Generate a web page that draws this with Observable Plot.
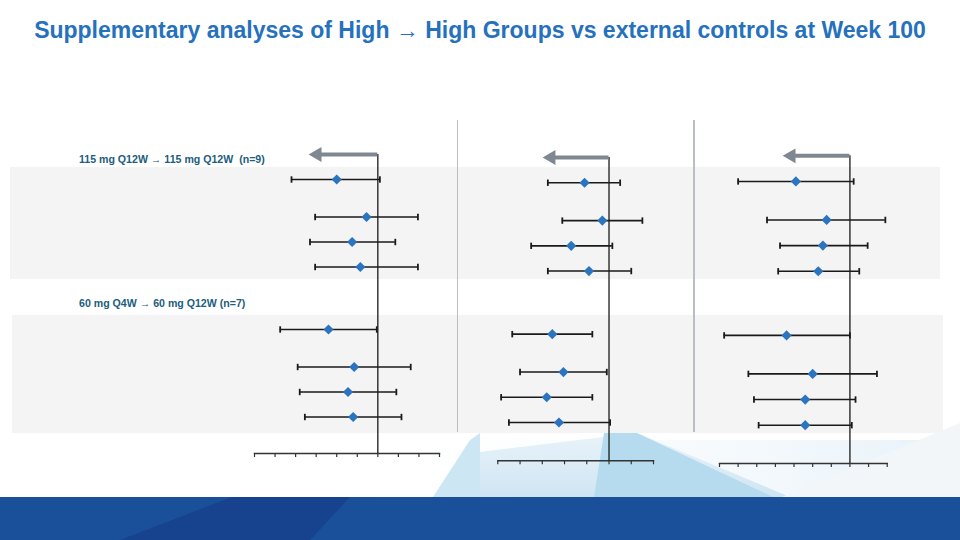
<!DOCTYPE html>
<html>
<head>
<meta charset="utf-8">
<script src="https://cdn.jsdelivr.net/npm/d3@7"></script>
<script src="https://cdn.jsdelivr.net/npm/@observablehq/plot@0.6"></script>
<style>
  html, body { margin: 0; padding: 0; background: #ffffff; }
  #slide { position: relative; width: 960px; height: 540px; overflow: hidden; font-family: "Liberation Sans", Arial, sans-serif; background: #ffffff; }
  #slide .layer { position: absolute; left: 0; top: 0; }
  #title { position: absolute; left: 0; top: 15px; width: 960px; text-align: center; font-size: 23px; font-weight: bold; color: #2571bd; line-height: 30px; white-space: nowrap; }
  .grp { position: absolute; left: 79px; font-size: 10.6px; font-weight: bold; color: #1d5d7d; white-space: nowrap; }
  .band { position: absolute; background: #f4f4f4; }
  .sep { position: absolute; width: 1.6px; background: #b8bec4; }
</style>
</head>
<body>
<div id="slide">
  <svg class="layer" width="960" height="540" id="decor">
    <defs>
      <linearGradient id="fadeL" x1="0" y1="0" x2="1" y2="0">
        <stop offset="0" stop-color="#ffffff" stop-opacity="0"/>
        <stop offset="1" stop-color="#dcecf7" stop-opacity="1"/>
      </linearGradient>
      <linearGradient id="fadeV" x1="0" y1="0" x2="0" y2="1">
        <stop offset="0" stop-color="#e9f3fa"/>
        <stop offset="1" stop-color="#cfe5f3"/>
      </linearGradient>
    </defs>
    <polygon points="300,497 480,440 960,440 960,497" fill="url(#fadeL)" opacity="0.7"/>
    <polygon points="480,452 637,433 790,497 480,497" fill="url(#fadeV)"/>
    <polygon points="594,497 604,433 637,433 773,497" fill="#b6dbef"/>
    <polygon points="433,497 470,440 480,433 480,497" fill="#cde6f4"/>
    <polygon points="782,497 960,423 960,497" fill="#f2f6f9"/>
    <rect x="0" y="497" width="960" height="43" fill="#1a4f99"/>
    <polygon points="120,540 232,497 350,497 310,540" fill="#17438e"/>
  </svg>
  <div class="band" style="left:10px; top:167px; width:930px; height:112px;"></div>
  <div class="band" style="left:12px; top:315px; width:931px; height:118px;"></div>
  <div class="sep" style="left:456.5px; top:120px; height:312px;"></div>
  <div class="sep" style="left:693px; top:120px; height:312px;"></div>
  <div id="title">Supplementary analyses of High → High Groups vs external controls at Week 100</div>
  <div class="grp" id="g1" style="top:153px;"></div>
  <div class="grp" id="g2" style="top:297px;"></div>
</div>
<script>
// ---- data ----
const groupLabels = ["115 mg Q12W \u2192 115 mg Q12W\u00a0 (n=9)", "60 mg Q4W \u2192 60 mg Q12W (n=7)"];
const rowIds = ["A1", "A2", "A3", "A4", "B1", "B2", "B3", "B4"];

const p1Ticks = [-6, -5, -4, -3, -2, -1, 0, 1, 2, 3];
const p1Est = [-2.0, -0.55, -1.25, -0.85, -2.4, -1.15, -1.45, -1.2];
const p1Lo  = [-4.2, -3.05, -3.3, -3.05, -4.75, -3.9, -3.8, -3.55];
const p1Hi  = [0.1, 1.95, 0.85, 1.95, -0.05, 1.6, 0.9, 1.15];

const p2Ticks = [-5, -4, -3, -2, -1, 0, 1, 2];
const p2Est = [-1.1, -0.3, -1.7, -0.9, -2.55, -2.05, -2.8, -2.25];
const p2Lo  = [-2.75, -2.1, -3.5, -2.75, -4.35, -4.0, -4.85, -4.5];
const p2Hi  = [0.5, 1.5, 0.15, 1.0, -0.75, -0.1, -0.75, 0.05];

const p3Ticks = [-7, -6, -5, -4, -3, -2, -1, 0, 1, 2];
const p3Est = [-2.9, -1.25, -1.45, -1.7, -3.4, -2.0, -2.4, -2.4];
const p3Lo  = [-6.0, -4.45, -3.75, -3.85, -6.75, -5.45, -5.15, -4.9];
const p3Hi  = [0.2, 1.9, 0.95, 0.5, 0.0, 1.45, 0.3, 0.1];

// direction arrow (favours treatment) end, in axis units
const arrowEnds = [-2.95, -2.6, -3.15];

// ---- layout (row slots on a point scale, with spacer slots) ----
const gapsBefore = [2, 3, 2, 2, 5, 3, 2, 2]; // slots before each row
const yDomain = ["hdr"];
let sp = 0;
rowIds.forEach((id, i) => {
  for (let k = 1; k < gapsBefore[i]; k++) yDomain.push("sp" + (sp++));
  yDomain.push(id);
});

document.getElementById("g1").textContent = groupLabels[0];
document.getElementById("g2").textContent = groupLabels[1];

// vertical cap symbol for the whisker ends
const capSymbol = {draw(ctx) { ctx.moveTo(0, -3.2); ctx.lineTo(0, 3.2); }};

function panel(ticks, est, lo, hi, arrowEnd, m) {
  const rows = rowIds.map((id, i) => ({id, est: est[i], lo: lo[i], hi: hi[i]}));
  return Plot.plot({
    width: 960, height: 540,
    marginLeft: m.left, marginRight: 960 - m.right, marginTop: m.top, marginBottom: 540 - m.bottom,
    x: {domain: [ticks[0], ticks[ticks.length - 1]]},
    y: {type: "point", domain: yDomain, range: [m.top, m.last], padding: 0, round: false, axis: null},
    style: {background: "transparent", overflow: "visible"},
    marks: [
      Plot.frame({anchor: "bottom", stroke: "#333", strokeWidth: 1.4}),
      Plot.axisX({ticks, tickSize: 4, tickFormat: () => "", label: null, stroke: "#333", strokeWidth: 1.2}),
      Plot.ruleX([0], {stroke: "#1a1a1a", strokeWidth: 1.3}),
      Plot.ruleY([arrowEnd], {y: () => "hdr", x1: 0, x2: d => d, stroke: "#7f8890", strokeWidth: 4}),
      Plot.dot([arrowEnd], {x: d => d, y: () => "hdr", symbol: "triangle", rotate: -90, r: 5.5, fill: "#7f8890", stroke: "none"}),
      Plot.ruleY(rows, {y: "id", x1: "lo", x2: "hi", stroke: "#1a1a1a", strokeWidth: 1.6}),
      Plot.dot(rows, {x: "lo", y: "id", symbol: capSymbol, r: 3, fill: "none", stroke: "#1a1a1a", strokeWidth: 1.8}),
      Plot.dot(rows, {x: "hi", y: "id", symbol: capSymbol, r: 3, fill: "none", stroke: "#1a1a1a", strokeWidth: 1.8}),
      Plot.dot(rows, {x: "est", y: "id", symbol: "diamond2", r: 4.6, fill: "#2b74c0", stroke: "none"})
    ]
  });
}

const slide = document.getElementById("slide");
const panels = [
  panel(p1Ticks, p1Est, p1Lo, p1Hi, arrowEnds[0], {left: 254, right: 439, top: 154, bottom: 453, last: 416.5}),
  panel(p2Ticks, p2Est, p2Lo, p2Hi, arrowEnds[1], {left: 497.3, right: 653, top: 157, bottom: 460.3, last: 422}),
  panel(p3Ticks, p3Est, p3Lo, p3Hi, arrowEnds[2], {left: 719, right: 886.7, top: 155.3, bottom: 463, last: 424.7})
];
panels.forEach(p => {
  p.setAttribute("class", (p.getAttribute("class") || "") + " layer");
  p.style.position = "absolute";
  p.style.left = "0px";
  p.style.top = "0px";
  p.style.maxWidth = "none";
  slide.appendChild(p);
});
</script>
</body>
</html>
